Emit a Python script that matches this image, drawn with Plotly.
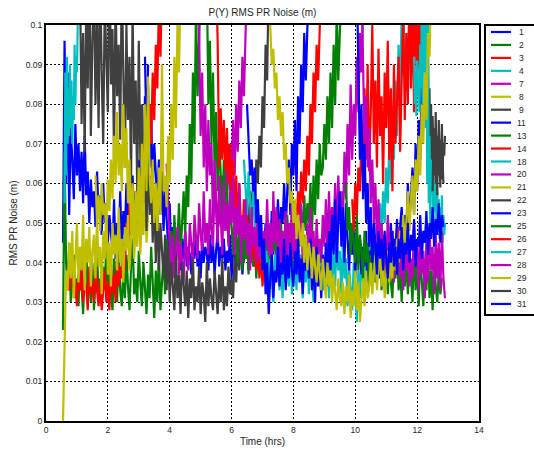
import plotly.graph_objects as go

# ---------------- data (RMS PR noise in millimetres, sampled every `step` hours) -------------
prn_labels = ["1", "2", "3", "4", "7", "8", "9", "11", "13", "14", "18",
              "20", "21", "22", "23", "25", "26", "27", "28", "29", "30", "31"]
colors = ["#0000FF", "#008000", "#FF0000", "#00BFBF", "#BF00BF", "#BFBF00", "#404040",
          "#0000FF", "#008000", "#FF0000", "#00BFBF", "#BF00BF", "#BFBF00", "#404040",
          "#0000FF", "#008000", "#FF0000", "#00BFBF", "#BF00BF", "#BFBF00", "#404040",
          "#0000FF"]
start_hrs = [0.55, 0.55, 0.7, 0.6, 3.9, 0.55, 1.1, 3.2, 5.2, 5.5, 6.4,
             4.9, 1.6, 12.35, 6.5, 9.7, 9.9, 11.9, 10.2, 7.25, 12.5, 10.05]
step_hrs = [0.05, 0.05, 0.05, 0.025, 0.05, 0.05, 0.05, 0.05, 0.05, 0.05, 0.05,
            0.05, 0.05, 0.025, 0.05, 0.05, 0.05, 0.025, 0.05, 0.05, 0.025, 0.05]
# order in which the series are drawn (later ones on top)
draw_order = ["11", "1", "2", "3", "4", "7", "8", "9", "13", "14", "18",
              "20", "21", "22", "23", "25", "26", "27", "28", "29", "30", "31"]

prn01 = [45, 96, 60, 88, 52, 74, 66, 56, 75, 62, 70, 58, 68, 55, 72, 57, 63, 50, 61, 54,
         58, 49, 63, 52, 57, 47, 60, 50, 55, 45, 52, 48, 43, 56, 41, 50, 46, 58, 42, 53,
         47, 60, 44, 55, 50, 62, 48, 58, 54, 66, 52, 74, 60, 82, 68, 90]
prn02 = [23, 68, 40, 33, 45, 30, 38, 42, 31, 36, 29, 41, 34, 27, 38, 44, 32, 35, 30, 40,
         28, 36, 43, 31, 34, 29, 39, 33, 45, 30, 37, 32, 28, 41, 35, 30, 44, 33, 29, 38,
         31, 42, 34, 28, 39, 46, 32, 36, 30, 43, 35, 29, 40, 33, 27, 37, 31, 44, 34, 26,
         38, 30, 42, 28, 35, 41, 32, 46, 36, 40, 48, 38, 52, 43, 46, 55, 42, 50, 58, 47,
         62, 54, 75, 60, 88, 70, 105, 82, 98, 110]
prn03 = [38, 33, 36, 42, 31, 35, 29, 37, 33, 40, 30, 36, 34, 28, 39, 32, 35, 30, 41, 33,
         29, 36, 28, 33, 38, 30, 35, 28, 40, 32, 37, 30, 42, 34, 39, 36, 45, 38, 50, 44,
         55, 47, 60, 50, 46, 58, 52, 62, 56, 66, 58, 72, 64, 80, 70, 88, 76, 95, 84, 105,
         92, 110, 100]
prn04 = [55, 88, 62, 92, 70, 84, 72, 90, 74, 86, 70, 82, 76, 95, 80, 92, 88, 104, 112]
prn07 = [65, 52, 44, 38, 47, 36, 42, 49, 37, 45, 40, 35, 48, 42, 38, 50, 44, 39, 52, 46,
         41, 55, 47, 43, 58, 45, 50, 42, 56, 48, 44, 60, 51, 46, 57, 49, 62, 53, 66, 55,
         70, 58, 64, 76, 62, 80, 68, 86, 74, 92, 82, 100, 112]
prn08 = [0, 23, 38, 33, 45, 36, 48, 31, 42, 50, 35, 44, 38, 52, 33, 46, 40, 49, 34, 43,
         47, 36, 51, 39, 44, 32, 48, 41, 53, 37, 45, 34, 50, 42, 47, 38, 54, 40, 46, 35,
         49, 43, 52, 38, 46, 55, 41, 50, 44, 56, 42, 53, 47, 58, 45, 52]
prn09 = [112, 75, 98, 68, 105, 84, 118, 72, 96, 110, 80, 102, 74, 115, 88, 70, 106, 92, 78, 120,
         85, 99, 66, 108, 82, 95, 71, 112, 87, 64, 100, 76, 92, 60, 104, 70, 86, 58, 96, 66,
         80, 55, 72, 48, 68, 52, 62, 45, 58, 40, 54, 38, 50, 42, 36, 47, 33, 44, 30, 40,
         35, 28, 42, 31, 37, 27, 40, 33, 29, 38, 26, 36, 31, 41, 28, 34, 30, 39, 27, 35,
         32, 25, 40, 29, 36, 31, 28, 38, 33, 27, 37, 30, 41, 28, 34, 29, 39, 32, 36, 31,
         42, 35, 46, 38, 44, 50, 40, 48, 55, 46, 58, 50, 62, 54, 66, 60, 72, 64, 82, 74,
         95, 86, 112]
prn11 = [92, 72, 85, 64, 78, 58, 70, 62, 55, 66, 52, 63, 48, 58, 50, 44, 55, 42, 49, 45,
         40, 47, 43, 38, 46, 41, 48, 39, 44, 42, 37, 45, 41, 47, 39, 43, 36, 46, 40, 44,
         42, 38, 47, 40, 45, 37, 43, 48, 39, 44, 41, 46, 38, 43, 40, 47, 36, 44, 42, 39,
         45, 40, 48, 37, 43, 41, 46, 38, 44, 40, 47, 39, 45, 42, 49, 38, 46, 43, 50, 41,
         48, 44, 53, 42, 51, 47, 56, 45, 54, 50, 60, 48, 58, 66, 52, 70, 62, 76, 58, 82,
         70, 90, 78, 98, 86, 104, 112]
prn13 = [112, 80, 96, 70, 88, 64, 78, 58, 72, 62, 52, 66, 48, 60, 45, 56, 50, 42, 54, 46,
         40, 50, 44, 38, 48, 41, 46, 37, 47, 42, 39, 45, 36, 44, 40, 48, 38, 43, 35, 46,
         41, 37, 49, 43, 51, 39, 47, 42, 50, 38, 46, 40, 52, 44, 48, 39, 45, 51, 42, 49,
         44, 53, 46, 57, 48, 55, 50, 60, 47, 62, 52, 66, 56, 70, 62, 64, 75, 66, 82, 70,
         88, 74, 95, 80, 104, 86, 98, 110, 115]
prn14 = [112, 96, 64, 79, 66, 76, 63, 74, 60, 70, 56, 66, 52, 62, 48, 60, 50, 46, 56, 47,
         52, 44, 49, 40, 47, 42, 38, 45, 36, 43, 34, 41, 37, 32, 40, 35, 42, 33, 38, 36,
         44, 37, 42, 39, 47, 40, 45, 50, 41, 48, 44, 55, 49, 58, 52, 63, 55, 66, 58, 72,
         62, 80, 70, 88, 78, 95, 86, 104, 112]
prn18 = [66, 60, 52, 63, 55, 48, 58, 50, 44, 53, 42, 49, 38, 45, 36, 43, 32, 41, 35, 30,
         42, 36, 45, 33, 39, 31, 44, 35, 40, 34, 45, 32, 38, 41, 33, 46, 36, 42, 31, 39,
         35, 44, 32, 40, 37, 30, 43, 34, 41, 36, 46, 33, 40, 35, 44, 31, 47, 36, 42, 34,
         48, 38, 43, 32, 45, 36, 41, 29, 39, 33, 28, 40, 34, 25, 38, 31, 42, 35, 30, 44,
         37, 46, 40, 35, 48, 42, 50, 44, 55, 47, 58, 50, 64, 55, 70, 60, 78, 66, 86, 72,
         95, 80, 104, 90, 112]
prn20 = [112, 98, 72, 88, 64, 80, 58, 76, 62, 70, 50, 66, 56, 45, 62, 52, 42, 60, 48, 55,
         44, 58, 50, 62, 42, 54, 47, 60, 40, 52, 46, 56, 42, 50, 38, 54, 44, 49, 40, 55,
         41, 52, 38, 48, 44, 56, 42, 50, 39, 58, 45, 54, 40, 51, 37, 48, 43, 53, 39, 50,
         44, 56, 41, 49, 38, 52, 46, 55, 40, 47, 38, 50, 43, 54, 40, 48, 36, 51, 42, 46,
         40, 52, 44, 56, 42, 58, 46, 54, 49, 60, 46, 62, 52, 58, 50, 68, 56, 75, 62, 85,
         66, 80, 72, 92, 78, 98, 88, 104, 112]
prn21 = [62, 50, 57, 48, 60, 52, 55, 47, 61, 53, 66, 56, 72, 60, 78, 62, 70, 58, 80, 64,
         74, 55, 66, 48, 60, 44, 58, 50, 64, 46, 70, 52, 80, 58, 87, 62, 55, 66, 50, 60,
         48, 64, 52, 90, 58, 62, 54, 72, 60, 80, 66, 92, 74, 100, 88, 110, 105]
prn22 = [95, 70, 84, 66, 80, 62, 77, 68, 74, 63, 78, 66, 72, 62, 76, 64, 71, 65, 75, 63,
         70, 67, 72]
prn23 = [80, 72, 62, 66, 58, 64, 50, 56, 44, 52, 38, 46, 32, 40, 27, 36, 42, 31, 38, 35,
         44, 34, 40, 37, 46, 33, 42, 36, 45, 38, 34, 43, 37, 46, 35, 41, 32, 44, 38, 42,
         36, 46, 33, 41, 30, 44, 34, 39, 31, 42, 36, 45, 34, 48, 38, 52, 42, 56, 40, 50,
         58, 44, 54, 40, 55, 46, 38, 50, 42, 48, 36, 47, 40, 45, 37, 44, 39, 48, 35, 43,
         40, 46, 38, 47, 41, 44, 36, 45, 42, 48, 39, 47, 43, 50, 40, 46, 44, 51, 42, 49,
         54, 45, 52, 47, 60, 50, 56, 64, 52, 70, 58, 76, 66, 88, 112]
prn25 = [60, 48, 54, 42, 50, 45, 40, 52, 38, 47, 43, 36, 48, 40, 45, 34, 42, 38, 46, 35,
         43, 37, 45, 33, 41, 36, 44, 32, 40, 35, 31, 42, 36, 44, 33, 39, 30, 45, 34, 41,
         32, 43, 36, 30, 45, 33, 40, 29, 42, 35, 29, 40, 33, 44, 31, 38, 28, 42, 34, 30,
         38, 32, 36]
prn26 = [56, 48, 60, 52, 64, 58, 72, 62, 84, 66, 90, 63, 78, 100, 70, 86, 64, 94, 72, 82,
         60, 88, 74, 96, 66, 84, 58, 90, 70, 80, 92, 68, 85, 104, 76, 98, 80, 112, 84, 106,
         78, 115, 88, 102, 82, 118, 90, 108, 86, 120, 112]
prn27 = [92, 80, 88, 77, 91, 82, 86, 78, 95, 84, 104, 80, 110, 88, 115, 74, 108, 60, 100, 55,
         72, 50, 66, 58, 63, 49, 60, 53, 65, 47, 58, 50, 56, 46, 54, 48, 57, 45, 52, 47, 50]
prn28 = [112, 92, 70, 82, 64, 74, 55, 66, 50, 60, 45, 56, 42, 50, 40, 47, 37, 52, 43, 38,
         48, 35, 44, 40, 49, 36, 46, 33, 42, 38, 47, 34, 41, 36, 50, 39, 45, 33, 48, 37,
         43, 31, 46, 35, 49, 38, 44, 32, 47, 36, 45, 33, 48, 36, 31]
prn29 = [100, 90, 94, 84, 88, 76, 82, 72, 78, 66, 70, 60, 64, 55, 58, 50, 56, 46, 52, 48,
         44, 50, 40, 47, 38, 45, 42, 36, 44, 39, 35, 42, 37, 33, 41, 36, 31, 40, 34, 38,
         30, 37, 33, 28, 36, 31, 29, 35, 27, 34, 30, 37, 26, 33, 29, 38, 28, 35, 25, 32,
         36, 29, 38, 31, 34, 40, 32, 37, 42, 33, 39, 44, 34, 41, 31, 38, 43, 35, 40, 36,
         44, 38, 46, 40, 48, 42, 52, 45, 50, 58, 48, 56, 62, 52, 66, 58, 72, 62, 80, 70,
         88, 76, 98, 92, 110]
prn30 = [58, 70, 62, 74, 60, 68, 57, 72, 63, 66, 59, 70, 61, 65, 60]
prn31 = [112, 90, 66, 80, 56, 70, 50, 60, 44, 54, 40, 50, 44, 37, 48, 41, 46, 38, 47, 42,
         36, 45, 40, 48, 39, 44, 37, 46, 41, 49, 38, 45, 42, 50, 40, 47, 43, 51, 39, 46,
         44, 52, 41, 48, 45, 53, 42, 50, 46, 54, 44, 51, 47, 55, 45, 52, 49]

series_mm = [prn01, prn02, prn03, prn04, prn07, prn08, prn09, prn11, prn13, prn14, prn18,
             prn20, prn21, prn22, prn23, prn25, prn26, prn27, prn28, prn29, prn30, prn31]

x_ticks = [0, 2, 4, 6, 8, 10, 12, 14]
y_ticks = [0, 0.01, 0.02, 0.03, 0.04, 0.05, 0.06, 0.07, 0.08, 0.09, 0.1]
y_tick_text = ["0", "0.01", "0.02", "0.03", "0.04", "0.05", "0.06", "0.07", "0.08", "0.09", "0.1"]

# ---------------- layout geometry (pixels) ----------------
W, H = 534, 449
L, R, T, B = 46, 479, 25, 421
FONT = "Arial, Liberation Sans, sans-serif"
TXT = "#262626"


def pxx(px):
    return (px - L) / (R - L)


def pxy(py):
    return (B - py) / (B - T)


fig = go.Figure()
for lab in draw_order:
    k = prn_labels.index(lab)
    t0, dt, vals = start_hrs[k], step_hrs[k], series_mm[k]
    xs = [round(t0 + i * dt, 4) for i in range(len(vals))]
    ys = [v / 1000.0 for v in vals]
    fig.add_trace(go.Scatter(x=xs, y=ys, mode="lines", name=lab,
                             line=dict(color=colors[k], width=2.2), showlegend=False))

axis_common = dict(showline=True, mirror=True, linecolor="black", linewidth=2,
                   showgrid=True, gridcolor="black", gridwidth=1.2, griddash="2px,2px",
                   zeroline=False, ticks="", automargin=False,
                   tickfont=dict(family=FONT, size=8.5, color=TXT))

fig.update_xaxes(range=[0, 14], tickvals=x_ticks, ticktext=[str(v) for v in x_ticks],
                 title=dict(text="Time (hrs)", font=dict(family=FONT, size=10, color=TXT),
                            standoff=4),
                 **axis_common)
fig.update_yaxes(range=[0, 0.1], tickvals=y_ticks, ticktext=y_tick_text,
                 title=dict(text="RMS PR Noise (m)", font=dict(family=FONT, size=10, color=TXT),
                            standoff=6),
                 **axis_common)

# ---------------- manual legend (box, line samples, labels) ----------------
shapes = [dict(type="rect", xref="paper", yref="paper",
               x0=pxx(485), x1=pxx(545), y0=pxy(315), y1=pxy(25),
               line=dict(color="black", width=2), fillcolor="white", layer="above")]
annotations = []
for i, (lab, col) in enumerate(zip(prn_labels, colors)):
    py = 32 + 12.95 * i
    shapes.append(dict(type="line", xref="paper", yref="paper",
                       x0=pxx(491), x1=pxx(511), y0=pxy(py), y1=pxy(py),
                       line=dict(color=col, width=2.2), layer="above"))
    annotations.append(dict(xref="paper", yref="paper", x=pxx(521.5), y=pxy(py),
                            text=lab, showarrow=False, xanchor="center", yanchor="middle",
                            font=dict(family=FONT, size=8.5, color=TXT)))

fig.update_layout(
    width=W, height=H,
    margin=dict(l=L, r=W - R, t=T, b=H - B, pad=0),
    paper_bgcolor="white", plot_bgcolor="white",
    title=dict(text="P(Y) RMS PR Noise (m)", x=0.5, xref="paper", xanchor="center",
               y=1 - 12.7 / H, yref="container", yanchor="middle",
               font=dict(family=FONT, size=10, color=TXT)),
    shapes=shapes, annotations=annotations, showlegend=False,
)

fig.write_html("out.html")
